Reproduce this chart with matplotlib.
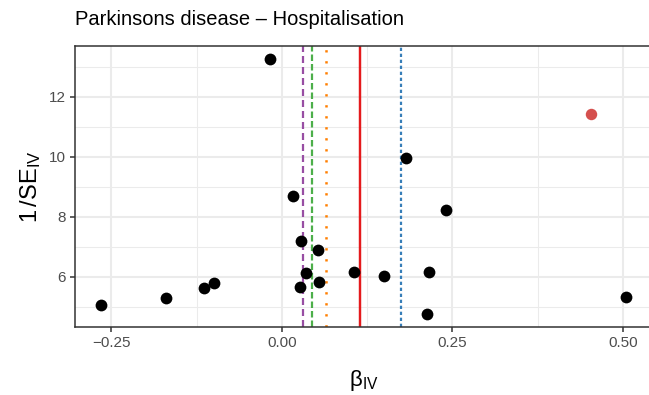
import matplotlib
matplotlib.use("Agg")
import matplotlib.pyplot as plt
import numpy as np
from matplotlib.ticker import FixedLocator

plt.rcParams['font.family'] = ['Liberation Sans', 'DejaVu Sans']
plt.rcParams['lines.scale_dashes'] = False

# SNP-level estimates
beta_iv = [-0.265, -0.170, -0.115, -0.099, -0.018, 0.016, 0.028, 0.026, 0.036,
           0.053, 0.055, 0.106, 0.150, 0.182, 0.213, 0.216, 0.240, 0.505, 0.453]
inv_se = [5.06, 5.28, 5.63, 5.78, 13.26, 8.68, 7.18, 5.67, 6.13,
          6.88, 5.82, 6.16, 6.01, 9.95, 4.76, 6.16, 8.22, 5.31, 11.41]
flagged = [0, 0, 0, 0, 0, 0, 0, 0, 0, 0, 0, 0, 0, 0, 0, 0, 0, 0, 1]

# method estimates (vertical lines)
method_names = ["Weighted mode", "Weighted median", "Simple mode",
                "Inverse variance weighted", "MR Egger"]
method_beta = [0.031, 0.044, 0.065, 0.114, 0.175]
method_colors = ["#984EA3", "#4DAF4A", "#FF7F00", "#E41A1C", "#377EB8"]
px = 0.72
method_styles = [(0, (7 * px, 4 * px)), (0, (6.5 * px, 3 * px)), (0, (2.3 * px, 8.7 * px)),
                 '-', (0, (3.3 * px, 2.7 * px))]
method_lw = [1.6, 1.6, 1.8, 1.75, 1.6]

x_ticks = [-0.25, 0.0, 0.25, 0.50]
x_tick_labels = ["\u22120.25", "0.00", "0.25", "0.50"]
y_ticks = [6, 8, 10, 12]

W, H = 649, 395
fig = plt.figure(figsize=(W / 100, H / 100), dpi=100)
left, right, bottom, top = 75, 652.4, 326.6, 46.2
ax = fig.add_axes([left / W, 1 - bottom / H, (right - left) / W, (bottom - top) / H])

allx = beta_iv + method_beta
xr = max(allx) - min(allx)
ax.set_xlim(min(allx) - 0.05 * xr, max(allx) + 0.05 * xr)
yr = max(inv_se) - min(inv_se)
ax.set_ylim(min(inv_se) - 0.05 * yr, max(inv_se) + 0.05 * yr)

ax.set_xticks(x_ticks)
ax.set_xticklabels(x_tick_labels)
ax.set_yticks(y_ticks)
ax.xaxis.set_minor_locator(FixedLocator([-0.375, -0.125, 0.125, 0.375, 0.625]))
ax.yaxis.set_minor_locator(FixedLocator([5, 7, 9, 11, 13]))
ax.grid(which='major', color='#EBEBEB', lw=1.5)
ax.grid(which='minor', color='#EBEBEB', lw=0.75)
ax.set_axisbelow(True)

for b, c, ls, lw in zip(method_beta, method_colors, method_styles, method_lw):
    ax.axvline(b, color=c, ls=ls, lw=lw, zorder=2)

xs = np.array(beta_iv)
ys = np.array(inv_se)
fl = np.array(flagged) == 1
ax.scatter(xs[~fl], ys[~fl], s=72, color='black', zorder=3, linewidths=0)
ax.scatter(xs[fl], ys[fl], s=68, color='#D5504E', zorder=3, linewidths=0)

for sp in ax.spines.values():
    sp.set_color('#333333')
    sp.set_linewidth(1.1)
ax.tick_params(which='major', length=3.8, width=1.1, color='#333333',
               labelsize=11, labelcolor='#4D4D4D', pad=3)
ax.tick_params(which='minor', length=0)

ax.set_xlabel(r"$\mathregular{\beta_{IV}}$", fontsize=16, labelpad=13)
ax.set_ylabel(r"$\mathregular{1\,/SE_{IV}}$", fontsize=17, labelpad=4)
ax.set_title("Parkinsons disease \u2013 Hospitalisation", loc='left', fontsize=14.5, pad=15.5)

fig.savefig("out.png", dpi=100)
